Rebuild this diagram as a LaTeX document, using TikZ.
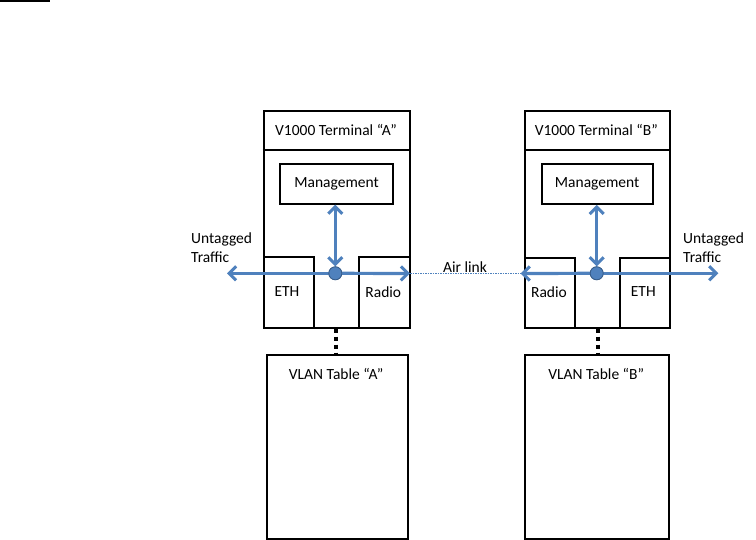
\documentclass[tikz,border=0pt]{standalone}
\usepackage{fontspec}
\setmainfont{Carlito}
\usetikzlibrary{arrows.meta}
\definecolor{linkblue}{RGB}{79,129,189}
\definecolor{dotrim}{RGB}{56,93,138}
\tikzset{
  box/.style={draw,line width=1.9pt,anchor=north west,inner sep=0pt},
  lbl/.style={font=\fontsize{15.5}{19}\selectfont,inner sep=0pt},
  flow/.style={linkblue,line width=3.2pt,{Straight Barb[length=7pt,width=14pt,line width=3pt]}-{Straight Barb[length=7pt,width=14pt,line width=3pt]}},
  oneway/.style={linkblue,line width=3.2pt,-{Straight Barb[length=7pt,width=14pt,line width=3pt]}},
  hub/.style={circle,fill=linkblue,draw=dotrim,line width=0.8pt,minimum size=13pt,inner sep=0pt},
  tablelink/.style={line width=4pt,dash pattern=on 4pt off 4pt}
}
\begin{document}
\begin{tikzpicture}[x=1pt,y=-1pt]
\useasboundingbox (0,0) rectangle (756,540);
\draw[line width=1.2pt] (0,1) -- (50,1);
% terminal A
\node[box,minimum width=146.6pt,minimum height=216.7pt] (termA) at (262.7,110) {};
\draw[line width=1.9pt] (262.7,150) -- (409.3,150);
\node[lbl] (titleA) at (336,130) {V1000 Terminal “A”};
\node[box,minimum width=112.7pt,minimum height=39.4pt] (mgmtA) at (279.3,163.3) {};
\node[lbl] at (mgmtA.center) {Management};
\node[box,minimum width=50.6pt,minimum height=70.7pt] (ethA) at (262.7,256) {};
\node[box,minimum width=51.6pt,minimum height=70.7pt] (radioA) at (357.7,256) {};
\node[lbl] at (287,292) {ETH};
\node[lbl] at (383.3,292) {Radio};
% terminal B
\node[box,minimum width=144.7pt,minimum height=216.7pt] (termB) at (524,110) {};
\draw[line width=1.9pt] (524,150) -- (668.7,150);
\node[lbl] (titleB) at (596.3,130) {V1000 Terminal “B”};
\node[box,minimum width=111pt,minimum height=39.7pt] (mgmtB) at (540.7,163.3) {};
\node[lbl] at (mgmtB.center) {Management};
\node[box,minimum width=50.3pt,minimum height=70pt] (radioB) at (524,256.7) {};
\node[box,minimum width=49.7pt,minimum height=70pt] (ethB) at (619,256.7) {};
\node[lbl] at (549,292) {Radio};
\node[lbl] at (643.3,292) {ETH};
% VLAN tables
\node[box,minimum width=141pt,minimum height=184pt] (vlanA) at (265.7,354.3) {};
\node[lbl] at (336.2,374) {VLAN Table “A”};
\node[box,minimum width=143.7pt,minimum height=184pt] (vlanB) at (524.3,354.3) {};
\node[lbl] at (596.2,374) {VLAN Table “B”};
\draw[tablelink] (termA.south -| 335.7,0) -- (vlanA.north -| 335.7,0);
\draw[tablelink] (termB.south -| 597.7,0) -- (vlanB.north -| 597.7,0);
% traffic
\node[hub] (hubA) at (335.3,273.3) {};
\node[hub] (hubB) at (596.7,273.3) {};
\coordinate (untagA) at (227,273.3);
\coordinate (airA) at (410,273.5);
\coordinate (airB) at (520.7,273.5);
\coordinate (untagB) at (718.3,273.3);
\draw[linkblue,line width=0.6pt,dash pattern=on 1.5pt off 1pt] (airA) -- (airB);
\node[lbl] at (465,267) {Air link};
\draw[oneway] (hubA.center) -- (untagA);
\draw[oneway] (hubA.center) -- (airA);
\draw[oneway] (hubB.center) -- (airB);
\draw[oneway] (hubB.center) -- (untagB);
\draw[flow] (mgmtA.south -| hubA) -- (hubA.north);
\draw[flow] (mgmtB.south -| hubB) -- (hubB.north);
\node[hub] at (hubA) {};
\node[hub] at (hubB) {};
\node[lbl,align=left,anchor=west] at (191,247.5) {Untagged\\Traffic};
\node[lbl,align=left,anchor=west] at (683,247.5) {Untagged\\Traffic};
\end{tikzpicture}
\end{document}
